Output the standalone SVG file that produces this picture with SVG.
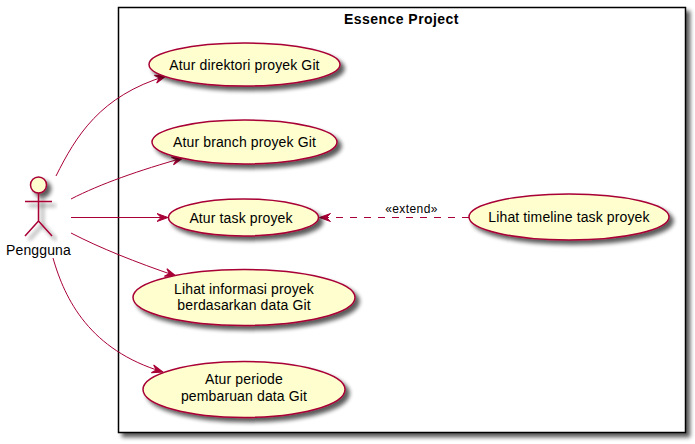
<svg xmlns="http://www.w3.org/2000/svg" width="695" height="444" viewBox="0 0 695 444">
<defs>
<filter id="sh" x="-20%" y="-30%" width="140%" height="160%"><feGaussianBlur in="SourceAlpha" stdDeviation="2"/><feOffset dx="4" dy="4"/><feComponentTransfer><feFuncA type="linear" slope="0.65"/></feComponentTransfer><feMerge><feMergeNode/><feMergeNode in="SourceGraphic"/></feMerge></filter>
<marker id="arr" markerUnits="userSpaceOnUse" markerWidth="14" markerHeight="14" refX="11.5" refY="7" orient="auto"><path d="M0.5,3 L11.5,7 L0.5,11 L4.5,7 Z" fill="#A80036" stroke="#A80036" stroke-width="1"/></marker>
</defs>
<style>
.uc ellipse{fill:#FEFECE;stroke:#A80036;stroke-width:1.5}
text{font-family:"Liberation Sans",Arial,sans-serif;font-size:14px;fill:#000;text-anchor:middle;letter-spacing:0.13px}
.c{fill:none;stroke:#A80036;stroke-width:1;marker-end:url(#arr)}
</style>
<rect width="695" height="444" fill="#fff"/>
<g id="boundary"><rect x="118.5" y="7.5" width="567" height="425" fill="#fff" stroke="#000" stroke-width="1.5" filter="url(#sh)"/><text x="401.5" y="24" font-weight="bold" style="letter-spacing:0.45px">Essence Project</text></g>
<g id="connectors">
<path class="c" d="M56,176 C76,136 100,96 166,76"/>
<path class="c" d="M71,199 C100,184 140,170 183,158"/>
<path class="c" d="M71,217.5 L168,217.5"/>
<path class="c" d="M71,233 C100,248 135,262 176,276"/>
<path class="c" d="M53,258 C65,300 90,350 163,372"/>
<path class="c" d="M469,217.5 L319.5,217.5" stroke-dasharray="7,7"/>
<text x="411.5" y="213" style="font-size:12px;letter-spacing:0.4px">«extend»</text>
</g>
<g id="actor" fill="none" stroke="#A80036" stroke-width="1.5">
<g filter="url(#sh)"><circle cx="38.5" cy="185" r="8" fill="#FEFECE"/><path d="M38.5,193V221M25,201.5H52M38.5,221L25,236M38.5,221L52,236"/></g>
<text x="38.5" y="255" stroke="none">Pengguna</text>
</g>
<g id="uc1" class="uc"><ellipse cx="244.5" cy="64.5" rx="95.5" ry="21.5" filter="url(#sh)"/><text x="244.5" y="69.5">Atur direktori proyek Git</text></g>
<g id="uc2" class="uc"><ellipse cx="244.5" cy="142" rx="92.5" ry="22" filter="url(#sh)"/><text x="244.5" y="147">Atur branch proyek Git</text></g>
<g id="uc3" class="uc"><ellipse cx="243.5" cy="217.5" rx="75" ry="18.5" filter="url(#sh)"/><text x="241" y="222.5">Atur task proyek</text></g>
<g id="uc4" class="uc"><ellipse cx="244" cy="297.5" rx="111" ry="28" filter="url(#sh)"/><text x="244" y="294">Lihat informasi proyek</text><text x="244" y="310">berdasarkan data Git</text></g>
<g id="uc5" class="uc"><ellipse cx="244" cy="389.5" rx="101" ry="28" filter="url(#sh)"/><text x="244" y="384">Atur periode</text><text x="244" y="401">pembaruan data Git</text></g>
<g id="uc6" class="uc"><ellipse cx="569" cy="217" rx="100" ry="23" filter="url(#sh)"/><text x="569" y="222">Lihat timeline task proyek</text></g>
</svg>
